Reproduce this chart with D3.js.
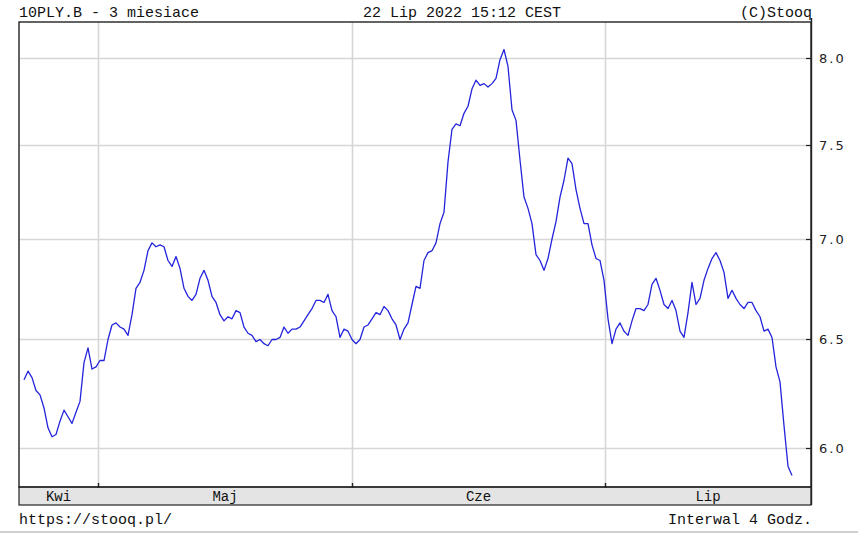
<!DOCTYPE html>
<html>
<head>
<meta charset="utf-8">
<script src="https://cdn.jsdelivr.net/npm/d3@7"></script>
<style>
  html, body { margin: 0; padding: 0; background: #fff; }
  svg { display: block; }
</style>
</head>
<body>
<svg id="chart" width="858" height="533"></svg>
<script>
// ---- data ----
const values = [
  6.31, 6.35, 6.32, 6.26, 6.24, 6.18, 6.09, 6.05, 6.06, 6.12,
  6.17, 6.14, 6.11, 6.16, 6.21, 6.39, 6.46, 6.36, 6.37, 6.40,
  6.40, 6.50, 6.57, 6.58, 6.56, 6.55, 6.52, 6.62, 6.75, 6.78,
  6.84, 6.94, 6.98, 6.96, 6.97, 6.96, 6.89, 6.86, 6.91, 6.85,
  6.75, 6.71, 6.69, 6.72, 6.80, 6.84, 6.79, 6.71, 6.68, 6.62,
  6.59, 6.61, 6.60, 6.64, 6.63, 6.56, 6.53, 6.52, 6.49, 6.50,
  6.48, 6.47, 6.50, 6.50, 6.51, 6.56, 6.53, 6.55, 6.55, 6.56,
  6.59, 6.62, 6.65, 6.69, 6.69, 6.68, 6.72, 6.64, 6.61, 6.51,
  6.55, 6.54, 6.50, 6.48, 6.50, 6.56, 6.57, 6.60, 6.63, 6.62,
  6.66, 6.64, 6.60, 6.57, 6.50, 6.55, 6.58, 6.67, 6.76, 6.75,
  6.89, 6.93, 6.94, 6.98, 7.08, 7.14, 7.41, 7.59, 7.62, 7.61,
  7.68, 7.72, 7.82, 7.87, 7.84, 7.85, 7.83, 7.85, 7.88, 7.99,
  8.05, 7.95, 7.70, 7.64, 7.42, 7.22, 7.16, 7.08, 6.92, 6.89,
  6.84, 6.90, 7.00, 7.09, 7.22, 7.31, 7.43, 7.40, 7.26, 7.16,
  7.08, 7.08, 6.97, 6.90, 6.89, 6.79, 6.60, 6.48, 6.55, 6.58,
  6.54, 6.52, 6.59, 6.65, 6.65, 6.64, 6.67, 6.77, 6.80, 6.74,
  6.67, 6.65, 6.69, 6.64, 6.54, 6.51, 6.63, 6.78, 6.67, 6.70,
  6.79, 6.85, 6.90, 6.93, 6.89, 6.83, 6.70, 6.74, 6.70, 6.67,
  6.65, 6.68, 6.68, 6.64, 6.61, 6.54, 6.55, 6.51, 6.37, 6.30,
  6.10, 5.92, 5.88
];
const monthNames = ["Kwi", "Maj", "Cze", "Lip"];
const monthStarts = [18.5, 82, 145.25];   // bar index where each new month begins
const yTicks = [6.0, 6.5, 7.0, 7.5, 8.0];
const yDomain = [5.83, 8.215];
const xDomain = [-1.25, 196.75];
const titleLeft = "10PLY.B - 3 miesiace";
const titleCenter = "22 Lip 2022 15:12 CEST";
const titleRight = "(C)Stooq";
const footLeft = "https://stooq.pl/";
const footRight = "Interwal 4 Godz.";

// ---- layout ----
const L = 19, R = 811, T = 22, B = 487, BAND = 18;
const mono = "'Liberation Mono', 'DejaVu Sans Mono', monospace";
const svg = d3.select("#chart");

const x = d3.scaleLinear().domain(xDomain).range([L, R]);
const y = d3.scaleLog().domain(yDomain).range([B, T]);

// horizontal grid
svg.append("g").selectAll("line").data(yTicks).join("line")
  .attr("x1", L).attr("x2", R)
  .attr("y1", d => Math.round(y(d)) + 0.5).attr("y2", d => Math.round(y(d)) + 0.5)
  .attr("stroke", "#d6d6d6").attr("stroke-width", 1.6);

// vertical grid at month boundaries
svg.append("g").selectAll("line").data(monthStarts).join("line")
  .attr("x1", d => Math.round(x(d)) + 0.5).attr("x2", d => Math.round(x(d)) + 0.5)
  .attr("y1", T).attr("y2", B)
  .attr("stroke", "#d6d6d6").attr("stroke-width", 1.6);

// price line
const line = d3.line().x((d, i) => x(i)).y(d => y(d));
svg.append("path").datum(values)
  .attr("d", line).attr("fill", "none")
  .attr("stroke", "#2424dc").attr("stroke-width", 1.3)
  .attr("stroke-linejoin", "round");

// x band
svg.append("rect").attr("x", L).attr("y", B).attr("width", R - L).attr("height", BAND)
  .attr("fill", "#e4e4e4").attr("stroke", "#222").attr("stroke-width", 1.2);

// frame
svg.append("rect").attr("x", L).attr("y", T).attr("width", R - L).attr("height", B - T)
  .attr("fill", "none").attr("stroke", "#222").attr("stroke-width", 1.4);

// month ticks
svg.append("g").selectAll("line").data(monthStarts).join("line")
  .attr("x1", d => Math.round(x(d)) + 0.5).attr("x2", d => Math.round(x(d)) + 0.5)
  .attr("y1", B - 4).attr("y2", B + 1)
  .attr("stroke", "#222").attr("stroke-width", 1.4);

// month labels centred in each visible month
const edges = [xDomain[0], ...monthStarts, xDomain[1]];
svg.append("g").selectAll("text").data(monthNames).join("text")
  .attr("x", (d, i) => (x(edges[i]) + x(edges[i + 1])) / 2)
  .attr("y", B + 14)
  .attr("text-anchor", "middle")
  .attr("font-family", mono).attr("font-size", 14).attr("fill", "#111")
  .text(d => d);

// right axis
const yAxis = d3.axisRight(y).tickValues(yTicks).tickFormat(d3.format(".1f")).tickSize(0).tickPadding(7);
const ag = svg.append("g").attr("transform", `translate(${R + 1},0)`).call(yAxis);
ag.select(".domain").remove();
ag.selectAll("text").attr("font-family", "'DejaVu Sans', Verdana, sans-serif")
  .attr("font-size", 13).attr("letter-spacing", 2).attr("fill", "#222");
svg.append("line").attr("x1", R + 0.5).attr("x2", R + 0.5).attr("y1", T - 4).attr("y2", B + BAND)
  .attr("stroke", "#222").attr("stroke-width", 1.4);
svg.append("g").selectAll("line").data(yTicks).join("line")
  .attr("x1", R - 5).attr("x2", R + 1)
  .attr("y1", d => Math.round(y(d)) + 0.5).attr("y2", d => Math.round(y(d)) + 0.5)
  .attr("stroke", "#222").attr("stroke-width", 1.2);

// header & footer text
const txt = (s, xx, yy, anchor) => svg.append("text")
  .attr("x", xx).attr("y", yy).attr("text-anchor", anchor)
  .attr("font-family", mono).attr("font-size", 15).attr("fill", "#111").text(s);
txt(titleLeft, L, 17, "start");
txt(titleCenter, 462, 17, "middle");
txt(titleRight, R + 1, 17, "end");
txt(footLeft, L, 524, "start");
txt(footRight, R + 1, 524, "end");

// bottom strip
svg.append("rect").attr("x", 0).attr("y", 531).attr("width", 858).attr("height", 2).attr("fill", "#d0d0d0");
</script>
</body>
</html>
